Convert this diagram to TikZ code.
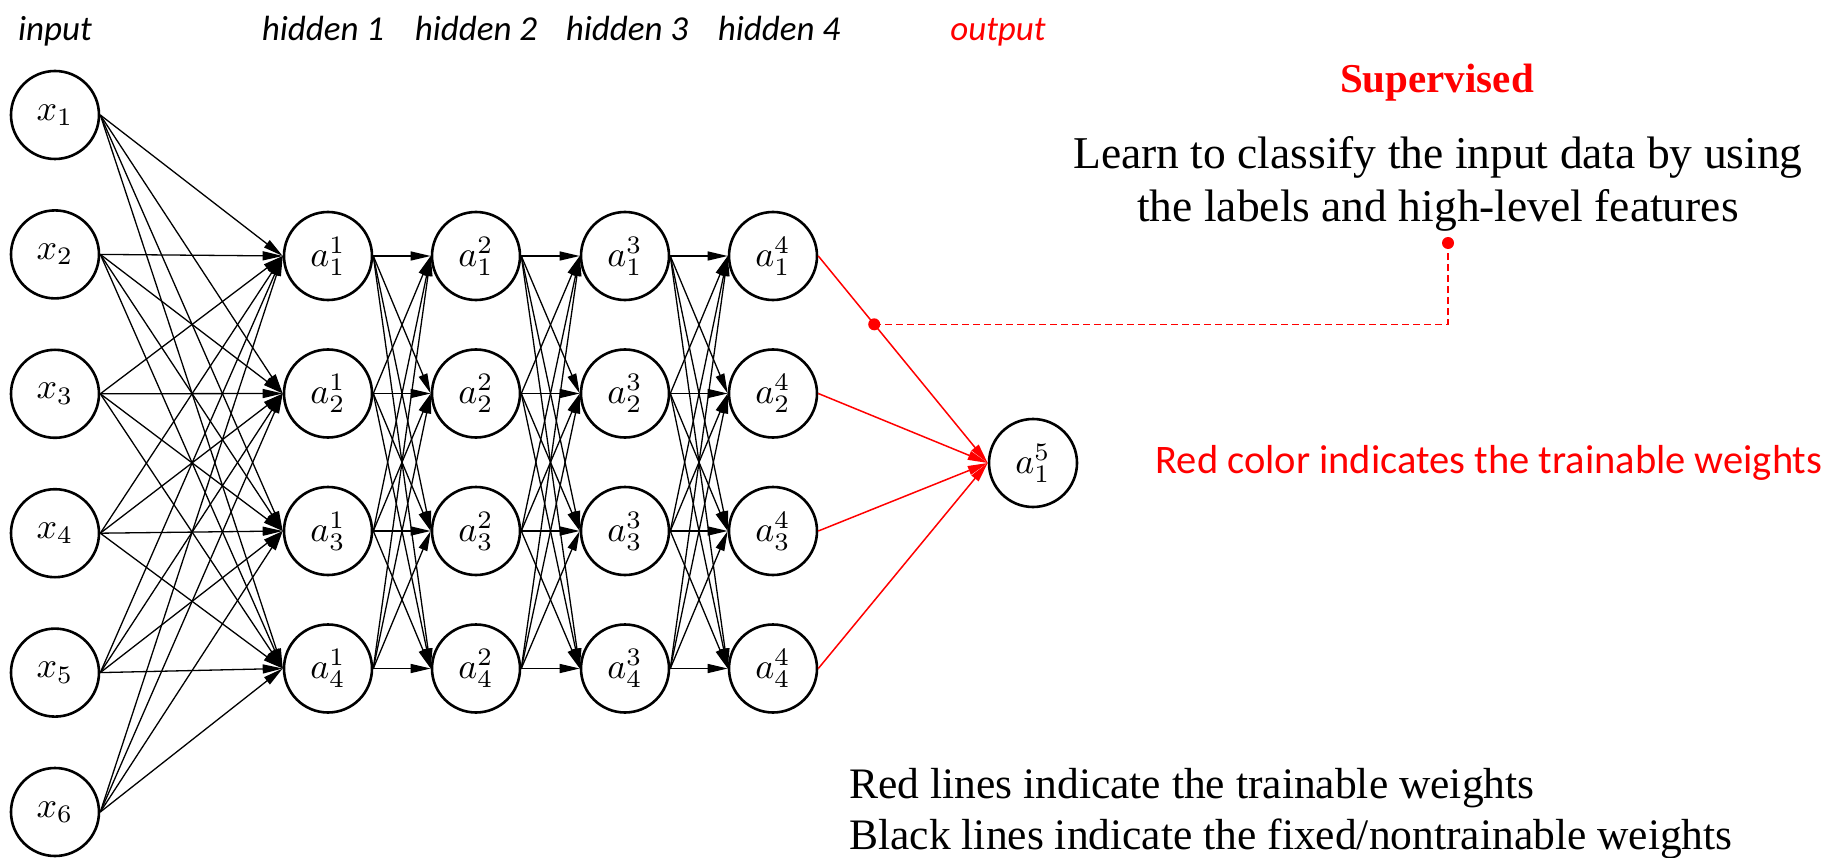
\documentclass[tikz,border=0pt]{standalone}
\usepackage{fontspec}
\usepackage{graphicx}
\setmainfont{Liberation Serif}
\newfontfamily\calibri{Carlito}
\usetikzlibrary{arrows.meta,calc}

% neuron labels: ordinary math, enlarged to the size of the circles
\newcommand\neurtext[1]{\scalebox{3.6}{$#1$}}

\tikzset{
  neuron/.style={circle, draw, line width=2.6pt, minimum size=88pt, inner sep=0pt},
  conn/.style={line width=1.3pt, -{Triangle[length=20pt,width=9pt]}},
  redconn/.style={conn, draw=red, fill=red, line width=1.5pt},
  layerlabel/.style={anchor=base, font=\calibri\itshape\fontsize{35}{42}\selectfont},
  reddot/.style={circle, fill=red, inner sep=0pt, minimum size=12pt},
  pointer/.style={draw=red, line width=1.5pt, dash pattern=on 7pt off 4pt}
}

\begin{document}
\begin{tikzpicture}[x=1pt, y=-1pt]
\useasboundingbox (0,0) rectangle (1843,858);

% layer titles
\node[layerlabel] (tin) at (55,41) {input};
\node[layerlabel] (th1) at (323,41) {hidden 1};
\node[layerlabel] (th2) at (476,41) {hidden 2};
\node[layerlabel] (th3) at (627,41) {hidden 3};
\node[layerlabel] (th4) at (779,41) {hidden 4};
\node[layerlabel, text=red] (tout) at (998,41) {output};

% input layer
\foreach \i in {1,...,6}
  \node[neuron] (x\i) at (55,{115+139.4*(\i-1)}) {\neurtext{x_{\i}}};

% hidden layers
\foreach \l/\cx in {1/328,2/476,3/625,4/773}
  \foreach \j in {1,...,4}
    \node[neuron] (h\l\j) at (\cx,{256+137.5*(\j-1)}) {\neurtext{a^{\l}_{\j}}};

% output neuron
\node[neuron] (out) at (1033,463) {\neurtext{a^{5}_{1}}};

% fixed weights
\foreach \i in {1,...,6}
  \foreach \j in {1,...,4}
    \draw[conn] (x\i.east) -- (h1\j.west);
\foreach \l/\m in {1/2,2/3,3/4}
  \foreach \i in {1,...,4}
    \foreach \j in {1,...,4}
      \draw[conn] (h\l\i.east) -- (h\m\j.west);

% trainable weights
\foreach \j in {1,...,4}
  \draw[redconn] (h4\j.east) -- (out.west);

% pointer from the trainable weights to the description
\coordinate (onw) at ($(h41.east)!0.33!(out.west)$);
\coordinate (txtpt) at (1448,243);
\coordinate (corner) at (txtpt |- onw);
\draw[pointer] (onw) -- (corner) -- (txtpt);
\node[reddot] (d1) at (onw) {};
\node[reddot] (d2) at (txtpt) {};

% descriptions (base anchor = baseline of the last line)
\node[anchor=base, text=red, font=\bfseries\fontsize{41}{48}\selectfont] (sup) at (1437,93) {Supervised};
\node[anchor=base, align=center, font=\fontsize{45.5}{53}\selectfont] (learn) at (1438,222)
  {Learn to classify the input data by using\\the labels and high-level features};
\node[anchor=base west, text=red, font=\calibri\fontsize{40.5}{48}\selectfont] (redcol) at (1152,473)
  {Red color indicates the trainable weights};
\node[anchor=base west, align=left, font=\fontsize{43.5}{51}\selectfont] (legend) at (846,849)
  {Red lines indicate the trainable weights\\Black lines indicate the fixed/nontrainable weights};
\end{tikzpicture}
\end{document}
